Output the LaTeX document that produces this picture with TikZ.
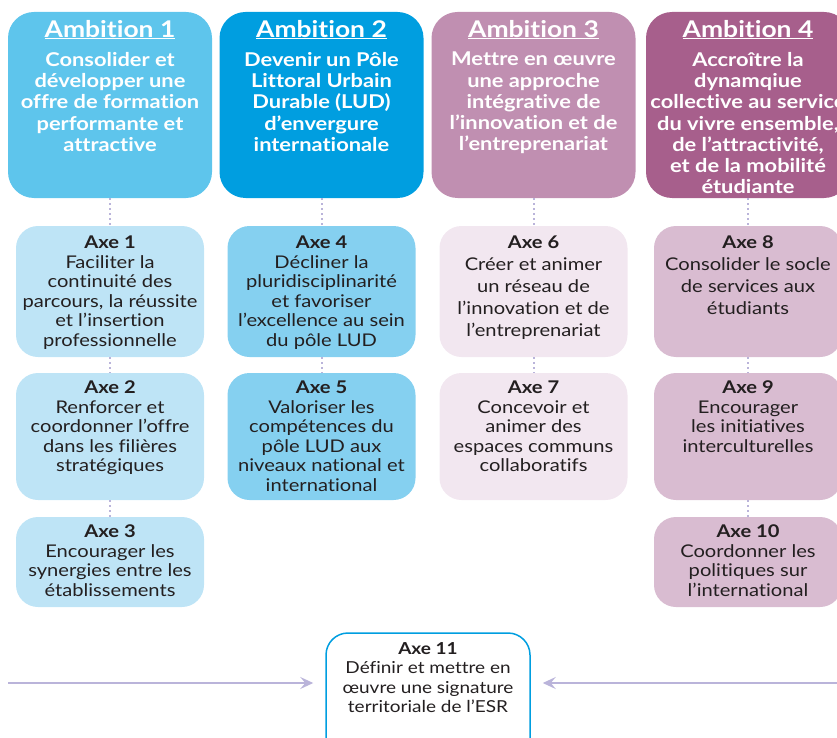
\documentclass[tikz,border=0pt]{standalone}
\usepackage{fontspec}
\setmainfont{Lato}[FakeStretch=1.15,Ligatures=NoCommon]
\usetikzlibrary{positioning,arrows.meta}
\definecolor{ambA}{RGB}{94,197,236}
\definecolor{ambB}{RGB}{0,158,224}
\definecolor{ambC}{RGB}{192,143,177}
\definecolor{ambD}{RGB}{167,95,140}
\definecolor{axeA}{RGB}{190,228,246}
\definecolor{axeB}{RGB}{133,208,240}
\definecolor{axeC}{RGB}{242,231,240}
\definecolor{axeD}{RGB}{217,188,209}
\definecolor{lien}{RGB}{186,180,218}
\definecolor{texte}{RGB}{35,31,32}

\begin{document}
\begin{tikzpicture}[x=1pt,y=-1pt,
    amb/.style={rectangle,rounded corners=26pt,minimum width=204pt,minimum height=186pt,inner sep=0pt},
    axe/.style={rectangle,rounded corners=22pt,minimum width=188pt,inner sep=0pt},
    ambtitre/.style={inner sep=0pt,text=white,font=\fontsize{23}{26}\selectfont\bfseries},
    ambtexte/.style={inner sep=0pt,text=white,align=center,font=\fontsize{19}{21.3}\selectfont\bfseries},
    axetexte/.style={inner sep=0pt,text=texte,align=center,font=\fontsize{17.5}{19.5}\selectfont},
    pointill/.style={lien,line width=2pt,dash pattern=on 2pt off 3pt},
    fleche/.style={lien,line width=1.2pt,-{Stealth[length=13pt,width=12pt,inset=5pt]}}]
    \useasboundingbox(0,0)rectangle(837,738);
    \clip(0,0)rectangle(837,738);
    % ambitions
    \node[amb,fill=ambA](amb1)at(110,105){};
    \node[amb,fill=ambB](amb2)at(321.5,105){};
    \node[amb,fill=ambC](amb3)at(533.5,105){};
    \node[amb,fill=ambD](amb4)at(748,105){};
    \node[ambtitre,below=8pt of amb1.north](amb1h){\underline{Ambition 1}};
    \node[ambtitre,below=8pt of amb2.north](amb2h){\underline{Ambition 2}};
    \node[ambtitre,below=8pt of amb3.north](amb3h){\underline{Ambition 3}};
    \node[ambtitre,below=8pt of amb4.north](amb4h){\underline{Ambition 4}};
    \node[ambtexte,below=40pt of amb1.north](amb1t){Consolider et\\développer une\\offre de formation\\performante et\\attractive};
    \node[ambtexte,below=40pt of amb2.north](amb2t){Devenir un Pôle\\Littoral Urbain\\Durable (LUD)\\d’envergure\\internationale};
    \node[ambtexte,below=40pt of amb3.north](amb3t){Mettre en œuvre\\une approche\\intégrative de\\l’innovation et de\\l’entreprenariat};
    \node[ambtexte,below=40pt of amb4.north](amb4t){Accroître la\\dynamqiue\\collective au service\\du vivre ensemble,\\de l’attractivité,\\et de la mobilité\\étudiante};
    % axes
    \node[axe,fill=axeA,minimum height=131pt](a1)at(110,291.5){};
    \node[axe,fill=axeA,minimum height=127pt](a2)at(110,436.5){};
    \node[axe,fill=axeA,minimum height=90pt](a3)at(110,562){};
    \node[axe,fill=axeB,minimum height=131pt](a4)at(321.5,291.5){};
    \node[axe,fill=axeB,minimum height=127pt](a5)at(321.5,436.5){};
    \node[axe,fill=axeC,minimum height=131pt](a6)at(533.5,291.5){};
    \node[axe,fill=axeC,minimum height=127pt](a7)at(533.5,436.5){};
    \node[axe,fill=axeD,minimum height=131pt](a8)at(748,291.5){};
    \node[axe,fill=axeD,minimum height=127pt](a9)at(748,436.5){};
    \node[axe,fill=axeD,minimum height=90pt](a10)at(748,562){};
    \node[axetexte,below=10pt of a1.north](a1t){\textbf{Axe 1}\\Faciliter la\\continuité des\\parcours, la réussite\\et l’insertion\\professionnelle};
    \node[axetexte,below=8pt of a2.north](a2t){\textbf{Axe 2}\\Renforcer et\\coordonner l’offre\\dans les filières\\stratégiques};
    \node[axetexte,below=8pt of a3.north](a3t){\textbf{Axe 3}\\Encourager les\\synergies entre les\\établissements};
    \node[axetexte,below=10pt of a4.north](a4t){\textbf{Axe 4}\\Décliner la\\pluridisciplinarité\\et favoriser\\l’excellence au sein\\du pôle LUD};
    \node[axetexte,below=8pt of a5.north](a5t){\textbf{Axe 5}\\Valoriser les\\compétences du\\pôle LUD aux\\niveaux national et\\international};
    \node[axetexte,font=\fontsize{17.5}{22}\selectfont,below=10pt of a6.north](a6t){\textbf{Axe 6}\\Créer et animer\\un réseau de\\l’innovation et de\\l’entreprenariat};
    \node[axetexte,below=8pt of a7.north](a7t){\textbf{Axe 7}\\Concevoir et\\animer des\\espaces communs\\collaboratifs};
    \node[axetexte,font=\fontsize{17.5}{22}\selectfont,below=10pt of a8.north](a8t){\textbf{Axe 8}\\Consolider le socle\\de services aux\\étudiants};
    \node[axetexte,below=8pt of a9.north](a9t){\textbf{Axe 9}\\Encourager\\les initiatives\\interculturelles};
    \node[axetexte,below=8pt of a10.north](a10t){\textbf{Axe 10}\\Coordonner les\\politiques sur\\l’international};
    \draw[pointill](amb1)--(a1);\draw[pointill](a1)--(a2);\draw[pointill](a2)--(a3);
    \draw[pointill](amb2)--(a4);\draw[pointill](a4)--(a5);
    \draw[pointill](amb3)--(a6);\draw[pointill](a6)--(a7);
    \draw[pointill](amb4)--(a8);\draw[pointill](a8)--(a9);\draw[pointill](a9)--(a10);
    % axe 11
    \node[axe,draw=ambB,line width=1.5pt,fill=white,minimum width=204pt,minimum height=166pt](a11)at(428,716){};
    \node[axetexte,font=\fontsize{16.5}{19.5}\selectfont,below=10pt of a11.north](a11t){\textbf{Axe 11}\\Définir et mettre en\\œuvre une signature\\territoriale de l’ESR};
    \coordinate(gauche)at(8,683);
    \coordinate(droite)at(845,683);
    \draw[fleche,shorten >=12pt](gauche)--(gauche-|a11.west);
    \draw[fleche,shorten >=12pt](droite)--(droite-|a11.east);
\end{tikzpicture}
\end{document}
